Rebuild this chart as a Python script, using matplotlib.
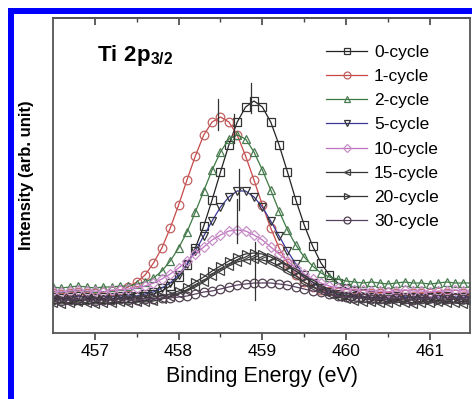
import matplotlib
matplotlib.use("Agg")
import matplotlib.pyplot as plt
from matplotlib.patches import Rectangle

plt.rcParams['font.family'] = ['Liberation Sans', 'DejaVu Sans']
plt.rcParams['mathtext.fontset'] = 'custom'
plt.rcParams['mathtext.rm'] = 'Liberation Sans'
plt.rcParams['mathtext.bf'] = 'Liberation Sans:bold'

# binding energy grid (eV)
energy = [456.5, 456.6, 456.7, 456.8, 456.9, 457.0, 457.1, 457.2, 457.3, 457.4,
          457.5, 457.6, 457.7, 457.8, 457.9, 458.0, 458.1, 458.2, 458.3, 458.4,
          458.5, 458.6, 458.7, 458.8, 458.9, 459.0, 459.1, 459.2, 459.3, 459.4,
          459.5, 459.6, 459.7, 459.8, 459.9, 460.0, 460.1, 460.2, 460.3, 460.4,
          460.5, 460.6, 460.7, 460.8, 460.9, 461.0, 461.1, 461.2, 461.3, 461.4,
          461.5]

cyc0 = [34, 35, 34, 33, 34, 35, 34, 34, 35, 35,
        36, 37, 39, 42, 47, 56, 68, 85, 107, 133,
        161, 188, 211, 226, 232, 226, 211, 188, 161, 133,
        108, 87, 70, 58, 50, 45, 42, 40, 38, 37,
        36, 37, 36, 35, 36, 36, 37, 36, 35, 36, 36]
cyc1 = [40, 39, 40, 41, 40, 40, 41, 42, 43, 46,
        51, 58, 70, 85, 105, 128, 153, 177, 198, 211,
        216, 211, 198, 177, 153, 128, 105, 85, 70, 58,
        51, 46, 43, 42, 41, 40, 40, 39, 40, 40,
        41, 40, 39, 40, 40, 40, 41, 40, 39, 40, 40]
cyc2 = [46, 45, 46, 47, 46, 45, 46, 46, 47, 47,
        49, 51, 55, 62, 72, 85, 101, 121, 142, 163,
        181, 194, 198, 194, 181, 163, 143, 122, 103, 88,
        76, 67, 60, 56, 54, 52, 51, 50, 51, 50,
        49, 50, 51, 50, 50, 49, 50, 51, 50, 50, 50]
cyc5 = [36, 35, 36, 37, 36, 35, 36, 36, 37, 37,
        37, 39, 41, 45, 50, 58, 69, 82, 97, 112,
        126, 136, 142, 142, 136, 126, 112, 97, 82, 69,
        58, 50, 45, 41, 39, 37, 37, 36, 36, 35,
        36, 37, 36, 36, 35, 36, 36, 37, 36, 36, 36]
cyc10 = [42, 41, 42, 43, 42, 42, 41, 43, 43, 44,
         45, 47, 50, 54, 59, 65, 72, 79, 86, 93,
         98, 102, 103, 102, 98, 93, 86, 79, 72, 65,
         59, 54, 50, 47, 45, 44, 43, 43, 42, 42,
         41, 42, 43, 42, 42, 41, 42, 42, 43, 42, 42]
cyc15 = [30, 29, 30, 31, 30, 29, 30, 30, 31, 30,
         31, 31, 32, 34, 36, 39, 42, 46, 51, 57,
         62, 67, 71, 73, 74, 73, 71, 67, 62, 57,
         51, 46, 42, 39, 36, 34, 32, 31, 31, 30,
         30, 31, 30, 29, 30, 30, 31, 30, 30, 29, 30]
cyc20 = [33, 34, 33, 32, 33, 34, 33, 33, 34, 34,
         34, 35, 36, 37, 39, 42, 46, 51, 56, 62,
         67, 72, 76, 79, 80, 79, 76, 72, 67, 62,
         56, 51, 46, 42, 39, 37, 36, 35, 34, 34,
         33, 34, 33, 33, 34, 33, 32, 33, 34, 33, 33]
cyc30 = [33, 32, 33, 34, 33, 32, 33, 33, 34, 33,
         33, 34, 34, 35, 35, 36, 37, 39, 41, 42,
         44, 46, 48, 49, 50, 50, 50, 49, 48, 46,
         44, 42, 41, 39, 37, 36, 35, 35, 34, 34,
         34, 35, 34, 33, 34, 35, 34, 34, 35, 34, 34]

labels = ['0-cycle', '1-cycle', '2-cycle', '5-cycle',
          '10-cycle', '15-cycle', '20-cycle', '30-cycle']
series = [cyc0, cyc1, cyc2, cyc5, cyc10, cyc15, cyc20, cyc30]
markers = ['s', 'o', '^', 'v', 'D', '<', '>', 'o']
line_colors = ['#222222', '#c84848', '#3c7a44', '#3a3a9a',
               '#c070c0', '#333333', '#333333', '#5a4060']
edge_colors = ['#333333', '#c06060', '#4a7a50', '#333333',
               '#c890c8', '#444444', '#3a3a3a', '#504050']

# peak position markers: (energy, low, high)
peak_lines = [(458.86, 220, 250), (458.47, 203, 234), (458.66, 190, 219),
              (458.72, 123, 164), (458.70, 90, 134), (458.91, 33, 91)]

fig = plt.figure(figsize=(4.72, 3.99), dpi=100)
ax = fig.add_axes([0.1123, 0.1654, 0.8835, 0.7895])

for y, lab, m, lc, ec in zip(series, labels, markers, line_colors, edge_colors):
    ms = 5.0 if m == 'D' else 6.2
    ax.plot(energy, y, color=lc, lw=0.9, marker=m, ms=ms, mfc='none',
            mec=ec, mew=0.9, label=lab)

for xp, lo, hi in peak_lines:
    ax.plot([xp, xp], [lo, hi], color='#333333', lw=0.9)

ax.set_xlim(456.5, 461.48)
ax.set_ylim(0, 315)
ax.set_yticks([])
ax.set_xticks([457, 458, 459, 460, 461])
ax.set_xticks([457.5, 458.5, 459.5, 460.5], minor=True)
ax.tick_params(axis='x', which='major', direction='out', length=5, width=1.2,
               color='#444444', labelsize=12.5, pad=3)
ax.tick_params(axis='x', which='minor', direction='out', length=3, width=1.0,
               color='#444444')
top = ax.secondary_xaxis('top')
top.set_xticks([457, 458, 459, 460, 461])
top.set_xticks([457.5, 458.5, 459.5, 460.5], minor=True)
top.tick_params(which='major', direction='in', length=5, width=1.2,
                color='#444444', labeltop=False)
top.tick_params(which='minor', direction='in', length=3, width=1.0,
                color='#444444')
for sp in list(ax.spines.values()) + list(top.spines.values()):
    sp.set_color('#555555')
    sp.set_linewidth(1.3)

ax.set_xlabel('Binding Energy (eV)', fontsize=15.5, labelpad=5)
ax.set_ylabel('Intensity (arb. unit)', fontsize=12, fontweight='bold',
              labelpad=14)

ax.text(0.105, 0.865, r'$\mathbf{Ti\ 2p_{3/2}}$', transform=ax.transAxes,
        fontsize=16)

ax.legend(loc='upper left', bbox_to_anchor=(0.655, 0.915), frameon=False,
          fontsize=12.5, handlelength=2.35, handletextpad=0.4,
          labelspacing=0.52, markerscale=0.8, borderpad=0, borderaxespad=0)

# blue frame around the picture
fig.add_artist(Rectangle((8 / 472, 0), 6 / 472, 391 / 399,
                         transform=fig.transFigure, color='#0000ff', lw=0))
fig.add_artist(Rectangle((8 / 472, 385 / 399), 464 / 472, 6 / 399,
                         transform=fig.transFigure, color='#0000ff', lw=0))

fig.savefig('out.png', dpi=100)
